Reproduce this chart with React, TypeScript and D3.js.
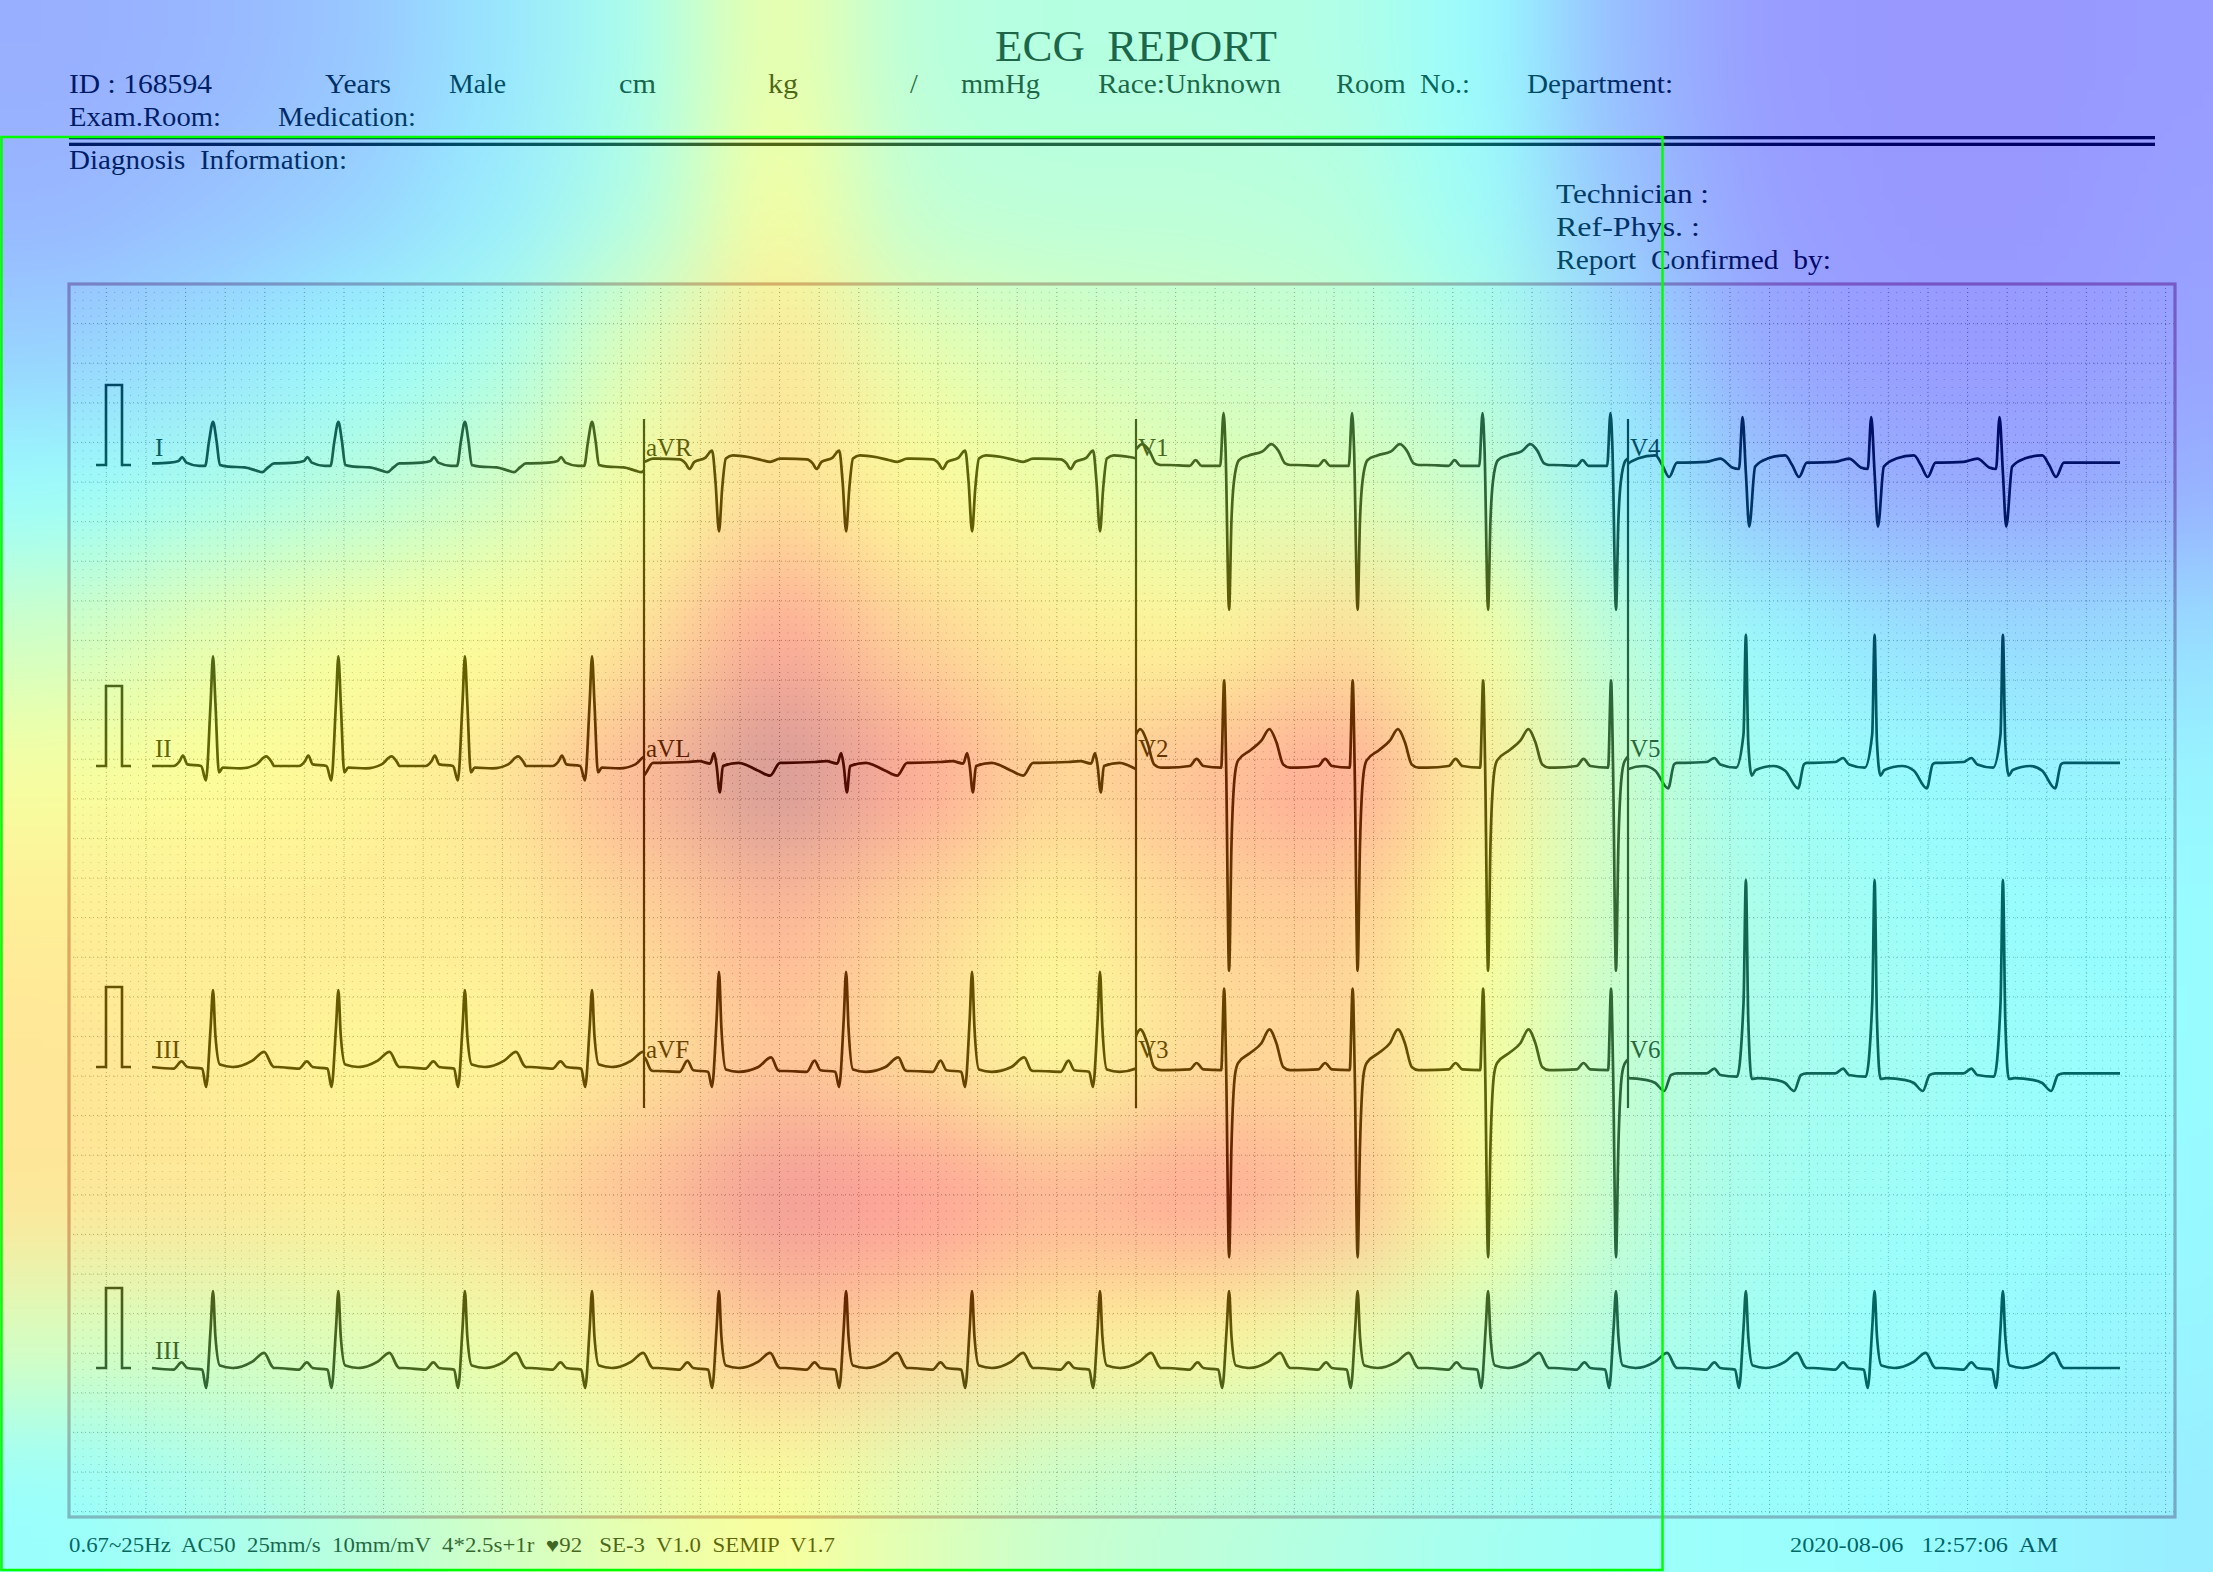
import * as d3 from "d3";

const W = 2213;
const H = 1572;

// R-peak times (s) read from the rhythm strip, 10 s record
const beatTimes = [0.31, 0.947, 1.59, 2.236, 2.881, 3.527, 4.167, 4.817, 5.473, 6.126, 6.789, 7.439, 8.099, 8.753, 9.405];

// one beat per lead: [seconds from R, mV]
const leadI: [number, number][] = [[-0.31, 0.02], [-0.22, 0.03], [-0.175, 0.05], [-0.157, 0.1], [-0.135, 0.03], [-0.07, -0.01], [-0.04, -0.01], [-0.02, 0.3], [0, 0.54], [0.018, 0.3], [0.035, 0.0], [0.08, -0.02], [0.16, -0.03], [0.22, -0.07], [0.25, -0.09], [0.28, -0.03], [0.31, 0.02]];
const leadAVR: [number, number][] = [[-0.31, 0.08], [-0.2, 0.07], [-0.17, 0.02], [-0.15, -0.05], [-0.125, 0.04], [-0.07, 0.09], [-0.035, 0.18], [-0.018, -0.2], [0, -0.83], [0.016, -0.3], [0.035, 0.08], [0.07, 0.12], [0.15, 0.1], [0.22, 0.06], [0.26, 0.04], [0.31, 0.08]];
const leadV1: [number, number][] = [[-0.31, 0.0], [-0.2, -0.01], [-0.17, 0.06], [-0.14, -0.01], [-0.045, -0.01], [-0.028, 0.65], [-0.018, 0.2], [0, -1.81], [0.012, -0.7], [0.025, -0.2], [0.05, 0.06], [0.1, 0.12], [0.17, 0.17], [0.215, 0.26], [0.25, 0.18], [0.285, 0.02], [0.31, 0.0]];
const leadV4: [number, number][] = [[-0.31, 0.03], [-0.2, 0.04], [-0.13, 0.08], [-0.07, -0.03], [-0.035, -0.05], [-0.017, 0.6], [0, -0.1], [0.017, -0.77], [0.047, -0.02], [0.11, 0.08], [0.2, 0.12], [0.235, 0.0], [0.27, -0.15], [0.31, 0.03]];
const leadII: [number, number][] = [[-0.31, 0.0], [-0.2, 0.0], [-0.17, 0.06], [-0.153, 0.13], [-0.13, 0.02], [-0.06, 0.0], [-0.036, -0.18], [-0.012, 0.8], [0, 1.37], [0.012, 0.8], [0.03, -0.08], [0.05, -0.02], [0.14, -0.03], [0.22, 0.02], [0.27, 0.12], [0.3, 0.04], [0.31, 0.0]];
const leadAVL: [number, number][] = [[-0.31, 0.04], [-0.16, 0.05], [-0.1, 0.06], [-0.045, 0.03], [-0.025, 0.16], [-0.012, 0.0], [0.004, -0.33], [0.02, 0.0], [0.1, 0.04], [0.2, -0.06], [0.26, -0.12], [0.31, 0.04]];
const leadV2: [number, number][] = [[-0.31, -0.02], [-0.2, 0.0], [-0.165, 0.09], [-0.13, 0.0], [-0.04, -0.02], [-0.025, 1.07], [-0.015, 0.0], [0, -2.56], [0.012, -1.0], [0.03, -0.1], [0.046, 0.07], [0.11, 0.2], [0.165, 0.32], [0.205, 0.46], [0.24, 0.3], [0.275, 0.02], [0.31, -0.02]];
const leadV5: [number, number][] = [[-0.31, 0.04], [-0.2, 0.05], [-0.16, 0.1], [-0.13, 0.02], [-0.05, -0.02], [-0.012, 0.4], [0, 1.64], [0.012, 0.3], [0.03, -0.12], [0.05, -0.05], [0.14, 0.0], [0.2, -0.06], [0.265, -0.28], [0.295, 0.02], [0.31, 0.04]];
const leadIII: [number, number][] = [[-0.31, 0.0], [-0.2, -0.02], [-0.16, 0.07], [-0.13, 0.0], [-0.055, -0.02], [-0.035, -0.25], [-0.012, 0.5], [0, 0.96], [0.012, 0.4], [0.035, 0.03], [0.1, 0.0], [0.2, 0.08], [0.26, 0.19], [0.3, 0.02], [0.31, 0.0]];
const leadAVF: [number, number][] = [[-0.31, -0.05], [-0.2, -0.06], [-0.16, 0.08], [-0.13, -0.04], [-0.055, -0.06], [-0.036, -0.25], [-0.012, 0.6], [0, 1.19], [0.012, 0.5], [0.035, -0.03], [0.1, -0.06], [0.2, 0.0], [0.265, 0.12], [0.3, -0.04], [0.31, -0.05]];
const leadV3: [number, number][] = [[-0.31, -0.04], [-0.2, -0.03], [-0.165, 0.05], [-0.13, -0.03], [-0.04, -0.04], [-0.025, 0.98], [-0.015, 0.0], [0, -2.38], [0.012, -1.0], [0.03, -0.1], [0.046, 0.05], [0.11, 0.18], [0.165, 0.3], [0.205, 0.47], [0.24, 0.3], [0.275, 0.0], [0.31, -0.04]];
const leadV6: [number, number][] = [[-0.31, -0.08], [-0.2, -0.08], [-0.16, -0.02], [-0.13, -0.1], [-0.045, -0.12], [-0.012, 0.8], [0, 2.34], [0.012, 0.6], [0.03, -0.15], [0.06, -0.14], [0.15, -0.16], [0.2, -0.2], [0.245, -0.3], [0.28, -0.1], [0.31, -0.08]];

const leadNames = [
  ["I", "aVR", "V1", "V4"],
  ["II", "aVL", "V2", "V5"],
  ["III", "aVF", "V3", "V6"],
];
const leadBeats: Record<string, [number, number][]> = {
  I: leadI, aVR: leadAVR, V1: leadV1, V4: leadV4,
  II: leadII, aVL: leadAVL, V2: leadV2, V5: leadV5,
  III: leadIII, aVF: leadAVF, V3: leadV3, V6: leadV6,
};
const rhythmName = "III";

const title = "ECG  REPORT";
const headerRow1 = ["ID : 168594", "Years", "Male", "cm", "kg", "/", "mmHg", "Race:Unknown", "Room  No.:", "Department:"];
const headerRow2 = ["Exam.Room:", "Medication:"];
const diagnosis = "Diagnosis  Information:";
const signLines = ["Technician :", "Ref-Phys. :", "Report  Confirmed  by:"];
const footerLeft = "0.67~25Hz  AC50  25mm/s  10mm/mV  4*2.5s+1r  \u266592   SE-3  V1.0  SEMIP  V1.7";
const footerRight = "2020-08-06   12:57:06  AM";

// attention map laid over the sheet (jet value per cell, 16 x 11)
const heat = [
  [0.17, 0.19, 0.23, 0.31, 0.42, 0.6, 0.46, 0.45, 0.45, 0.44, 0.37, 0.2, 0.12, 0.11, 0.11, 0.12],
  [0.19, 0.22, 0.26, 0.33, 0.44, 0.63, 0.48, 0.47, 0.47, 0.46, 0.39, 0.22, 0.13, 0.11, 0.11, 0.13],
  [0.26, 0.3, 0.36, 0.42, 0.56, 0.7, 0.58, 0.54, 0.52, 0.5, 0.44, 0.29, 0.15, 0.12, 0.12, 0.14],
  [0.38, 0.42, 0.46, 0.52, 0.62, 0.72, 0.65, 0.6, 0.56, 0.56, 0.5, 0.35, 0.22, 0.16, 0.15, 0.18],
  [0.52, 0.58, 0.62, 0.64, 0.7, 0.86, 0.74, 0.68, 0.66, 0.72, 0.62, 0.46, 0.36, 0.3, 0.28, 0.29],
  [0.62, 0.64, 0.66, 0.7, 0.82, 1.0, 0.86, 0.74, 0.8, 0.86, 0.68, 0.5, 0.4, 0.37, 0.35, 0.35],
  [0.68, 0.68, 0.68, 0.68, 0.74, 0.82, 0.74, 0.66, 0.74, 0.76, 0.64, 0.5, 0.42, 0.39, 0.37, 0.37],
  [0.7, 0.68, 0.66, 0.66, 0.7, 0.78, 0.72, 0.63, 0.72, 0.74, 0.62, 0.48, 0.42, 0.4, 0.38, 0.37],
  [0.7, 0.7, 0.68, 0.72, 0.8, 0.92, 0.88, 0.82, 0.86, 0.8, 0.64, 0.48, 0.41, 0.39, 0.37, 0.36],
  [0.54, 0.54, 0.56, 0.6, 0.68, 0.78, 0.74, 0.68, 0.66, 0.6, 0.52, 0.44, 0.4, 0.38, 0.36, 0.35],
  [0.38, 0.42, 0.46, 0.52, 0.58, 0.63, 0.56, 0.5, 0.47, 0.44, 0.41, 0.39, 0.38, 0.37, 0.35, 0.33],
];

const serif = "'Liberation Serif', 'Times New Roman', serif";
const header1X = [69, 325, 449, 619, 768, 910, 961, 1098, 1336, 1527];
const header1W = [143, 66, 57, 37, 30, 0, 79, 183, 134, 146];

const grid = { left: 69, top: 284, right: 2175, bottom: 1517 };
const mm = 7.92;
const rowBase = [465, 766, 1067, 1368];
const mvPx = 80;

export default function App() {
  const x = d3.scaleLinear().domain([0, 10]).range([152, 2120]);
  const jet = d3
    .scaleLinear<string>()
    .domain([0, 0.11, 0.375, 0.64, 0.89, 1])
    .range(["#000080", "#0000ff", "#00ffff", "#ffff00", "#ff0000", "#800000"])
    .clamp(true);

  const tracePath = (beat: [number, number][], t0: number, t1: number, base: number) => {
    const y = d3.scaleLinear().domain([0, 1]).range([base, base - mvPx]);
    const pts: [number, number][] = [];
    beatTimes.forEach((b) =>
      beat.forEach(([dt, v]) => {
        const t = b + dt;
        if (t > t0 - 0.4 && t < t1 + 0.4) pts.push([t, v]);
      })
    );
    pts.sort((a, b) => a[0] - b[0]);
    if (pts[0][0] > t0) pts.unshift([t0, pts[0][1]]);
    if (pts[pts.length - 1][0] < t1) pts.push([t1, pts[pts.length - 1][1]]);
    return d3
      .line<[number, number]>()
      .x((d) => x(d[0]))
      .y((d) => y(d[1]))
      .curve(d3.curveMonotoneX)(pts) as string;
  };

  const cell = W / 15.68;
  const cx = d3.scaleLinear().domain([0, 1]).range([0, cell]);

  const majorX = d3.range(106.3, grid.right, mm * 5);
  const majorY = d3.range(grid.top + mm * 5, grid.bottom, mm * 5);

  return (
    <svg width={W} height={H} style={{ position: "absolute", left: 0, top: 0, background: "#fff" }} fontFamily={serif}>
      <defs>
        <pattern id="minor" x={106.3} y={grid.top} width={mm} height={mm} patternUnits="userSpaceOnUse">
          <rect width={1} height={1} fill="#777" />
        </pattern>
        {[0, 1, 2, 3].map((c) => (
          <clipPath id={`col${c}`} key={c}>
            <rect x={x(c * 2.5)} y={grid.top} width={x(2.5) - x(0)} height={grid.bottom - grid.top} />
          </clipPath>
        ))}
        <filter id="heatBlur" filterUnits="userSpaceOnUse" x={-600} y={-600} width={W + 1200} height={H + 1200} colorInterpolationFilters="sRGB">
          <feGaussianBlur stdDeviation={55} />
        </filter>
      </defs>

      <rect width={W} height={H} fill="#fff" />

      {/* header */}
      <text x={1136} y={61} fontSize={44} textAnchor="middle" textLength={282} lengthAdjust="spacingAndGlyphs" style={{ whiteSpace: "pre" }}>
        {title}
      </text>
      {headerRow1.map((t, i) => (
        <text key={t} x={header1X[i]} y={93} fontSize={28} style={{ whiteSpace: "pre" }}
          {...(header1W[i] ? { textLength: header1W[i], lengthAdjust: "spacingAndGlyphs" } : {})}>
          {t}
        </text>
      ))}
      {headerRow2.map((t, i) => (
        <text key={t} x={[69, 278][i]} y={126} fontSize={28} textLength={[152, 138][i]} lengthAdjust="spacingAndGlyphs">
          {t}
        </text>
      ))}
      <rect x={69} y={136} width={2086} height={3.3} fill="#000" />
      <rect x={69} y={142.7} width={2086} height={3.3} fill="#000" />
      <text x={69} y={169} fontSize={28} textLength={278} lengthAdjust="spacingAndGlyphs" style={{ whiteSpace: "pre" }}>
        {diagnosis}
      </text>
      {signLines.map((t, i) => (
        <text key={t} x={1556} y={203 + i * 33} fontSize={27} textLength={[153, 144, 275][i]} lengthAdjust="spacingAndGlyphs" style={{ whiteSpace: "pre" }}>
          {t}
        </text>
      ))}

      {/* ECG paper */}
      <rect x={grid.left} y={grid.top} width={grid.right - grid.left} height={grid.bottom - grid.top} fill="url(#minor)" opacity={0.55} />
      <g stroke="#777" strokeWidth={1} strokeDasharray="1 3" opacity={0.75}>
        {majorX.map((v) => (
          <line key={`vx${v}`} x1={v} x2={v} y1={grid.top} y2={grid.bottom} />
        ))}
        {majorY.map((v) => (
          <line key={`hy${v}`} x1={grid.left} x2={grid.right} y1={v} y2={v} />
        ))}
      </g>
      <rect x={grid.left} y={grid.top} width={grid.right - grid.left} height={grid.bottom - grid.top} fill="none" stroke="#c88aa0" strokeWidth={3.2} />

      {/* calibration pulses */}
      {rowBase.map((b) => (
        <path key={`cal${b}`} d={`M96,${b}H106V${b - mvPx}H122V${b}H131`} fill="none" stroke="#000" strokeWidth={2.6} />
      ))}

      {/* 12-lead block */}
      {leadNames.map((row, r) =>
        row.map((name, c) => (
          <g key={name}>
            <path
              d={tracePath(leadBeats[name], c * 2.5, c * 2.5 + 2.5, rowBase[r])}
              clipPath={`url(#col${c})`}
              fill="none"
              stroke="#000"
              strokeWidth={2.7}
              strokeLinejoin="round"
            />
            <text x={x(c * 2.5) + (c === 0 ? 3 : 2)} y={rowBase[r] - 9} fontSize={25}>
              {name}
            </text>
          </g>
        ))
      )}
      {[2.5, 5, 7.5].map((t) => (
        <line key={`sep${t}`} x1={x(t)} x2={x(t)} y1={419} y2={1108} stroke="#000" strokeWidth={2.2} />
      ))}

      {/* rhythm strip */}
      <path d={tracePath(leadBeats[rhythmName], 0, 10, rowBase[3])} fill="none" stroke="#000" strokeWidth={2.7} strokeLinejoin="round" />
      <text x={x(0) + 3} y={rowBase[3] - 9} fontSize={25}>
        {rhythmName}
      </text>

      {/* footer */}
      <text x={69} y={1552} fontSize={20} textLength={766} lengthAdjust="spacingAndGlyphs" style={{ whiteSpace: "pre" }}>
        {footerLeft}
      </text>
      <text x={1790} y={1552} fontSize={20} textLength={268} lengthAdjust="spacingAndGlyphs" style={{ whiteSpace: "pre" }}>
        {footerRight}
      </text>

      {/* heat overlay */}
      <g opacity={0.4}>
        <g filter="url(#heatBlur)">
          {heat.map((row, j) =>
            row.map((v, i) => {
              const x0 = i === 0 ? -500 : cx(i);
              const x1 = i === row.length - 1 ? W + 500 : cx(i + 1);
              const y0 = j === 0 ? -500 : cx(j);
              const y1 = j === heat.length - 1 ? H + 500 : cx(j + 1);
              return <rect key={`h${j}-${i}`} x={x0} y={y0} width={x1 - x0 + 0.5} height={y1 - y0 + 0.5} fill={jet(v)} />;
            })
          )}
        </g>
      </g>

      {/* highlight box */}
      <rect x={1.5} y={137} width={1661} height={1433} fill="none" stroke="#00ff00" strokeWidth={2.5} />
    </svg>
  );
}
